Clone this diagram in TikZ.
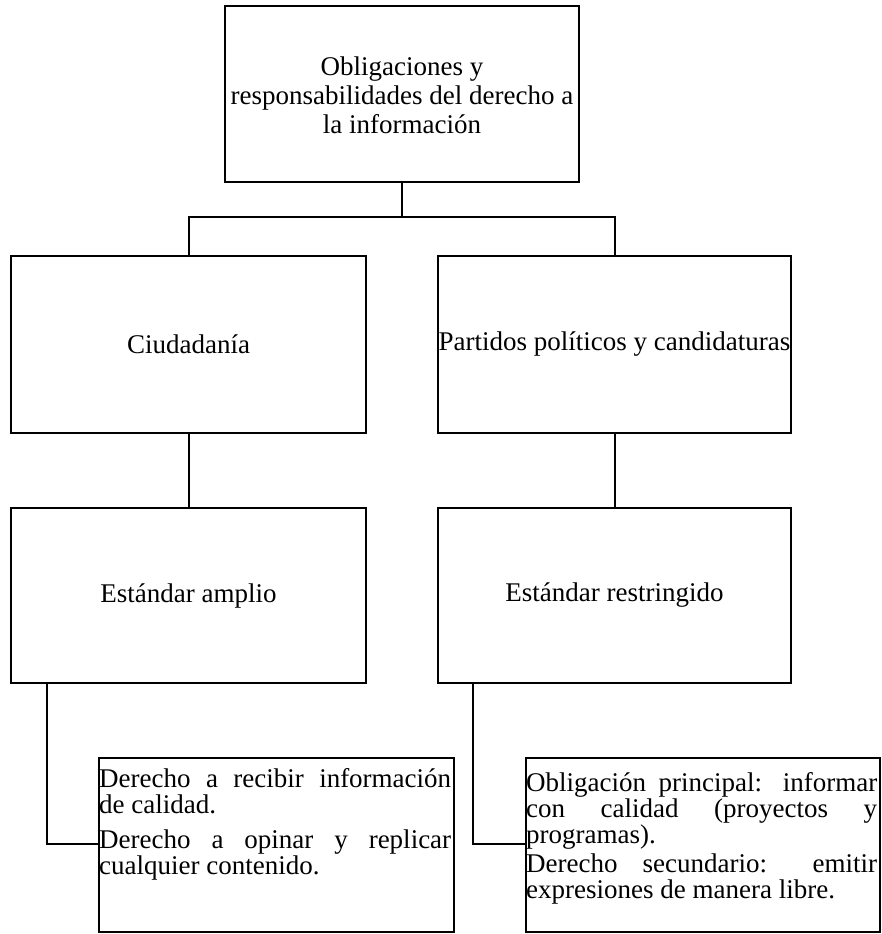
\documentclass[tikz,border=0pt]{standalone}
\usepackage{fontspec}
\setmainfont{Liberation Serif}
% justified text without hyphenation and without shrinking interword spaces
\newcommand\nohyphen{\hyphenpenalty=10000 \exhyphenpenalty=10000
  \emergencystretch=3em \fontdimen4\font=0pt\relax}
\begin{document}
\begin{tikzpicture}[x=1pt,y=-1pt,
  box/.style={draw, line width=2pt, rectangle, inner sep=0pt, anchor=north west},
  lbl/.style={align=center, font=\fontsize{27}{29}\selectfont},
  para/.style={anchor=north west, inner sep=0pt, text width=#1, align=justify,
    font=\fontsize{27}{26}\selectfont},
  link/.style={line width=2pt}]
\useasboundingbox (0,0) rectangle (881,934);

% boxes
\node[box, minimum width=354pt, minimum height=176pt] (top) at (224,5) {};
\node[box, minimum width=355pt, minimum height=177pt] (ciud) at (10,255) {};
\node[box, minimum width=353pt, minimum height=177pt] (part) at (437,255) {};
\node[box, minimum width=355pt, minimum height=175pt] (amp) at (10,507) {};
\node[box, minimum width=353pt, minimum height=175pt] (res) at (437,507) {};
\node[box, minimum width=355pt, minimum height=174pt] (ba) at (98,757) {};
\node[box, minimum width=354pt, minimum height=174pt] (br) at (525,757) {};

% labels
\node[lbl] (ttop) at ([yshift=-1pt]top.center) {Obligaciones y\\responsabilidades del derecho a\\la información};
\node[lbl] (tciud) at (ciud.center) {Ciudadanía};
\node[lbl] (tpart) at (part.center) {Partidos políticos y candidaturas};
\node[lbl] (tamp) at (amp.center) {Estándar amplio};
\node[lbl] (tres) at (res.center) {Estándar restringido};

% paragraphs in the lower boxes
\node[para=352pt] (pa1) at ([xshift=1pt,yshift=-11pt]ba.north west)
  {\nohyphen Derecho a recibir información de calidad.\par};
\node[para=352pt] (pa2) at ([xshift=1pt,yshift=-73pt]ba.north west)
  {\nohyphen Derecho a opinar y replicar cualquier contenido.\par};
\node[para=351pt] (pr1) at ([xshift=1pt,yshift=-15pt]br.north west)
  {\nohyphen Obligación principal: informar con calidad (proyectos y programas).\par};
\node[para=351pt] (pr2) at ([xshift=1pt,yshift=-97pt]br.north west)
  {\nohyphen Derecho secundario: emitir expresiones de manera libre.\par};

% connectors
\coordinate (split) at (top.south |- 0,217);
\draw[link] (top.south) -- (split);
\draw[link] (ciud.north) |- (split) -| (part.north);
\draw[link] (ciud.south) -- (amp.north);
\draw[link] (part.south) -- (res.north);
\coordinate (la) at (47,0);
\coordinate (lr) at (473,0);
\draw[link] (la |- amp.south) |- (ba.west |- 0,844);
\draw[link] (lr |- res.south) |- (br.west |- 0,844);
\end{tikzpicture}
\end{document}
